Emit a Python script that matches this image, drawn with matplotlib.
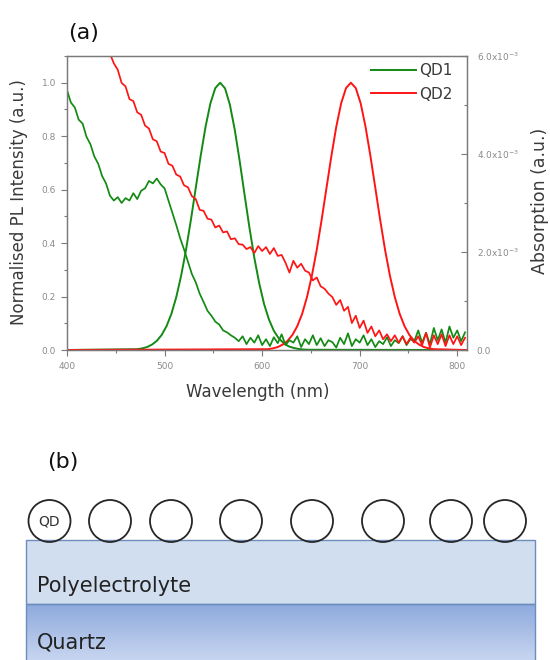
import numpy as np
import matplotlib
matplotlib.use("Agg")
import matplotlib.pyplot as plt
from matplotlib.patches import Circle, Rectangle
from matplotlib.colors import LinearSegmentedColormap
from matplotlib.ticker import MultipleLocator, FuncFormatter

# --- panel (a) data ---
# absorption, in units of 1e-3
qd1_abs_nm = np.arange(400, 809, 4)
qd1_abs = [
    5.30, 5.05, 4.95, 4.70, 4.62, 4.35, 4.20, 3.95, 3.80, 3.55,   # 400-436
    3.40, 3.15, 3.05, 3.12, 3.00, 3.10, 3.05, 3.20, 3.08, 3.25,   # 440-476
    3.30, 3.45, 3.40, 3.50, 3.38, 3.30, 3.05, 2.80, 2.55, 2.28,   # 480-516
    2.05, 1.80, 1.55, 1.38, 1.15, 0.98, 0.80, 0.70, 0.58, 0.52,   # 520-556
    0.40, 0.36, 0.30, 0.25, 0.18, 0.28, 0.12, 0.25, 0.15, 0.30,   # 560-596
    0.10, 0.22, 0.08, 0.26, 0.14, 0.32, 0.10, 0.20, 0.15, 0.28,   # 600-636
    0.06, 0.22, 0.12, 0.30, 0.10, 0.24, 0.08, 0.20, 0.16, 0.05,   # 640-676
    0.25, 0.12, 0.34, 0.08, 0.22, 0.15, 0.30, 0.10, 0.22, 0.06,   # 680-716
    0.18, 0.12, 0.26, 0.08, 0.20, 0.14, 0.28, 0.10, 0.22, 0.18,   # 720-756
    0.40, 0.15, 0.35, 0.12, 0.45, 0.20, 0.42, 0.15, 0.48, 0.25,   # 760-796
    0.40, 0.18, 0.36,                                             # 800-808
]
qd2_abs_nm = np.arange(444, 809, 4)
qd2_abs = [
    6.05, 5.85, 5.72, 5.45, 5.38, 5.12, 5.08, 4.85, 4.80, 4.58,   # 444-480
    4.52, 4.30, 4.26, 4.05, 4.02, 3.80, 3.76, 3.58, 3.54, 3.36,   # 484-520
    3.32, 3.14, 3.08, 2.86, 2.84, 2.68, 2.66, 2.50, 2.54, 2.40,   # 524-560
    2.42, 2.26, 2.28, 2.16, 2.15, 2.06, 2.10, 1.98, 2.12, 2.02,   # 564-600
    2.10, 1.96, 2.08, 1.92, 1.94, 1.78, 1.58, 1.82, 1.68, 1.76,   # 604-640
    1.62, 1.58, 1.42, 1.48, 1.30, 1.25, 1.15, 1.08, 0.92, 1.02,   # 644-680
    0.80, 0.88, 0.55, 0.70, 0.45, 0.60, 0.35, 0.48, 0.28, 0.40,   # 684-720
    0.22, 0.32, 0.18, 0.30, 0.15, 0.28, 0.12, 0.25, 0.15, 0.28,   # 724-760
    0.10, 0.35, 0.05, 0.30, 0.12, 0.32, 0.08, 0.30, 0.12, 0.28,   # 764-800
    0.10, 0.25,                                                   # 804-808
]

# normalised PL
qd1_pl_nm = [400] + list(range(472, 648, 5)) + [810]
qd1_pl = [0, 0.003, 0.006, 0.011, 0.02, 0.034, 0.056, 0.089, 0.135, 0.198,
          0.278, 0.375, 0.487, 0.607, 0.726, 0.835, 0.923, 0.98, 1.0, 0.979,
          0.917, 0.823, 0.707, 0.581, 0.458, 0.345, 0.25, 0.172, 0.114, 0.072,
          0.044, 0.026, 0.014, 0.008, 0.004, 0.002, 0.001, 0]
qd2_pl_nm = [400] + list(range(606, 777, 5)) + [810]
qd2_pl = [0, 0.003, 0.006, 0.011, 0.02, 0.034, 0.056, 0.089, 0.135, 0.198,
          0.278, 0.375, 0.487, 0.607, 0.726, 0.835, 0.923, 0.98, 1.0, 0.98,
          0.923, 0.835, 0.726, 0.607, 0.487, 0.375, 0.278, 0.198, 0.135, 0.089,
          0.056, 0.034, 0.02, 0.011, 0.006, 0.003, 0]

labels = ["QD1", "QD2"]

# --- panel (b) layout ---
qd_x = [49.5, 110, 171, 241, 312, 383, 451, 505]

GREEN = "#138a13"
RED = "#ff1414"
SPINE = "#7a7a7a"
TICKLBL = "#8a8a8a"
TXT = "#3a3a3a"

W, H = 550, 660
fig = plt.figure(figsize=(W / 100, H / 100), dpi=100)
fig.set_facecolor("white")

ax = fig.add_axes([67 / W, 1 - 350 / H, 400 / W, 294 / H])
ax2 = ax.twinx()

ax2.plot(qd1_abs_nm, qd1_abs, color=GREEN, lw=1.25)
ax2.plot(qd2_abs_nm, qd2_abs, color=RED, lw=1.25)
ax.plot(qd1_pl_nm, qd1_pl, color=GREEN, lw=1.4, label=labels[0])
ax.plot(qd2_pl_nm, qd2_pl, color=RED, lw=1.4, label=labels[1])

ax.set_xlim(400, 810)
ax.set_ylim(0, 1.1)
ax2.set_ylim(0, 6)

ax.xaxis.set_major_locator(MultipleLocator(100))
ax.xaxis.set_minor_locator(MultipleLocator(50))
ax.yaxis.set_major_locator(MultipleLocator(0.2))
ax.yaxis.set_minor_locator(MultipleLocator(0.1))
ax.yaxis.set_major_formatter(FuncFormatter(lambda v, p: f"{v:.1f}"))
ax2.yaxis.set_major_locator(MultipleLocator(2))
ax2.yaxis.set_minor_locator(MultipleLocator(1))
ax2.yaxis.set_major_formatter(FuncFormatter(
    lambda v, p: "0.0" if v == 0 else f"{v:.1f}x10$^{{-3}}$"))

for a in (ax, ax2):
    for s in a.spines.values():
        s.set_color(SPINE)
        s.set_linewidth(0.9)
ax.tick_params(which="both", direction="out", color=SPINE, labelcolor=TICKLBL,
               labelsize=6.5, width=0.8, top=False, right=False)
ax.tick_params(which="major", length=4)
ax.tick_params(which="minor", length=2.5)
ax.tick_params(axis="y", pad=4)
ax.tick_params(axis="x", pad=4.5)
ax2.tick_params(which="both", direction="in", color=SPINE, labelcolor=TICKLBL,
                labelsize=6.5, width=0.8, pad=7)
ax2.tick_params(which="major", length=4)
ax2.tick_params(which="minor", length=2.5)

leg = ax.legend(loc="upper right", bbox_to_anchor=(0.9625, 0.975),
                frameon=False, fontsize=11, handlelength=3.0,
                handletextpad=0.15, labelspacing=0.55, borderpad=0,
                borderaxespad=0)
for t in leg.get_texts():
    t.set_color(TXT)

fig.text(19 / W, 1 - 202 / H, "Normalised PL Intensity (a.u.)", rotation=90,
         ha="center", va="center", fontsize=12, color=TXT)
fig.text(258 / W, 1 - 392 / H, "Wavelength (nm)", ha="center", va="center",
         fontsize=12, color=TXT)
fig.text(540 / W, 1 - 201 / H, "Absorption (a.u.)", rotation=90,
         ha="center", va="center", fontsize=12.5, color=TXT)
fig.text(68 / W, 1 - 33 / H, "(a)", ha="left", va="center", fontsize=16,
         color="#111111")

# --- panel (b): schematic, drawn in pixel coordinates ---
axb = fig.add_axes([0, 0, 1, 230 / H])
quartz = LinearSegmentedColormap.from_list("quartz", ["#8eaadd", "#c7d5f0"])
axb.imshow(np.linspace(0, 1, 64).reshape(-1, 1), cmap=quartz, aspect="auto",
           extent=[26, 535, 660, 604], origin="upper", zorder=1)
axb.add_patch(Rectangle((26, 540), 509, 64, fc="#d1deef", ec="#6d8dbd",
                        lw=1.0, zorder=2))
axb.add_patch(Rectangle((26, 604), 509, 70, fill=False, ec="#6d8dbd",
                        lw=1.0, zorder=2))
for x in qd_x:
    axb.add_patch(Circle((x, 521), 21, fc="none", ec="#262626", lw=1.3,
                         zorder=3))
axb.text(qd_x[0], 521, "QD", ha="center", va="center", fontsize=10,
         color="#333333", zorder=4)
axb.text(37, 586, "Polyelectrolyte", ha="left", va="center", fontsize=15,
         color="#222222", zorder=4)
axb.text(37, 642, "Quartz", ha="left", va="center", fontsize=15,
         color="#222222", zorder=4)
axb.text(47, 462, "(b)", ha="left", va="center", fontsize=16,
         color="#111111")
axb.set_xlim(0, W)
axb.set_ylim(660, 430)
axb.axis("off")

fig.savefig("out.png", dpi=100)
